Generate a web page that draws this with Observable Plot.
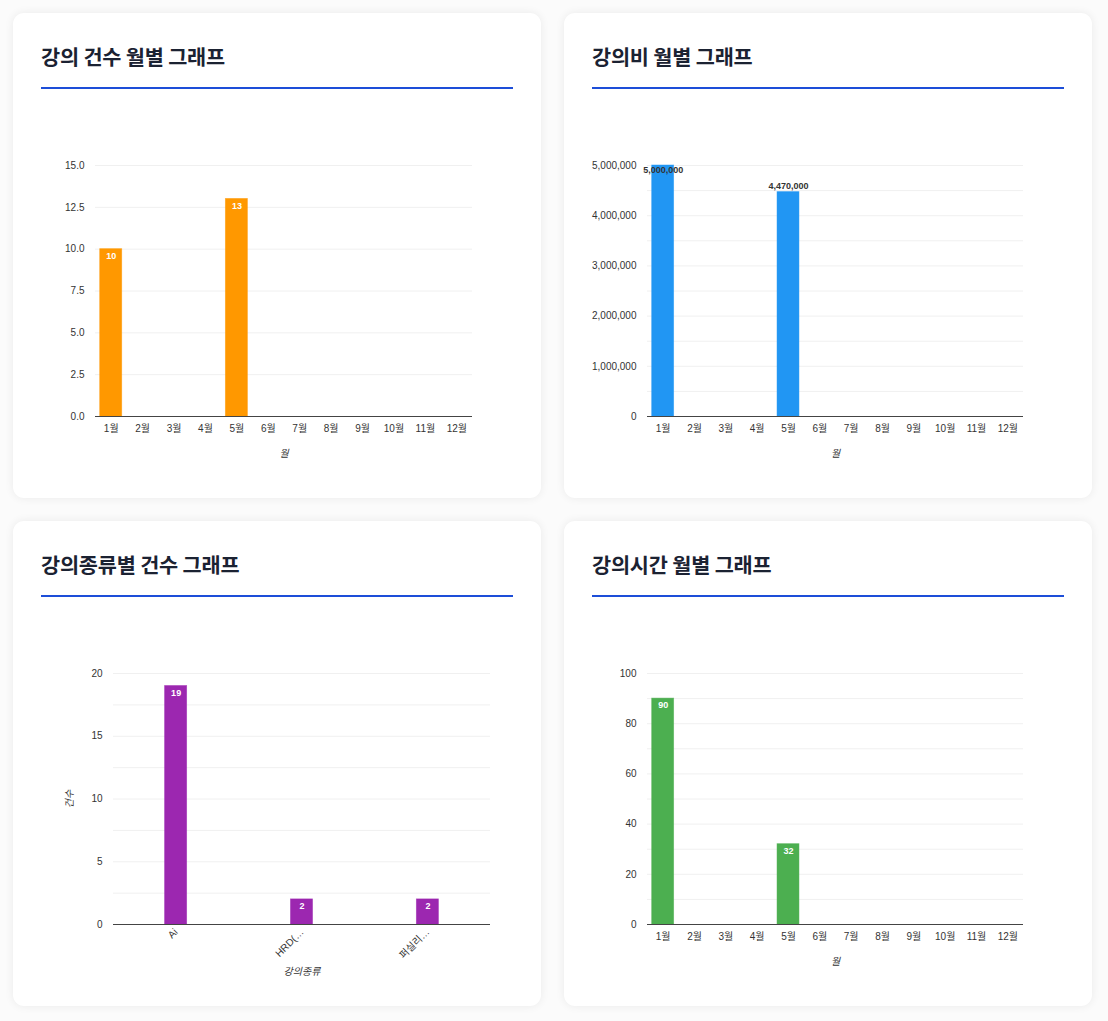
<!DOCTYPE html>
<html><head><meta charset="utf-8">
<script src="https://cdn.jsdelivr.net/npm/d3@7"></script>
<script src="https://cdn.jsdelivr.net/npm/@observablehq/plot@0.6"></script>
<style>
html,body{margin:0;padding:0;background:#fbfbfb;}
body{width:1108px;height:1021px;position:relative;overflow:hidden;font-family:"Noto Sans CJK KR","Noto Sans",sans-serif;}
.card{position:absolute;width:528px;height:485px;background:#fff;border-radius:11px;box-shadow:0 0 10px rgba(0,0,0,0.07);}
.card h2{position:absolute;left:28px;top:28px;margin:0;font-size:20.8px;font-weight:700;color:#1b2232;letter-spacing:-0.2px;}
.card .bar{position:absolute;left:28px;top:74px;width:472px;height:2px;background:#1d4ed8;}
.card .chart{position:absolute;left:28px;top:117px;}
.chart svg{font-family:Arial,"Liberation Sans","Noto Sans CJK KR",sans-serif;}
</style></head>
<body>
<div class="card" style="left:13px;top:13px"><h2>강의 건수 월별 그래프</h2><div class="bar"></div><div class="chart" id="c1"></div></div>
<div class="card" style="left:564px;top:13px"><h2>강의비 월별 그래프</h2><div class="bar"></div><div class="chart" id="c2"></div></div>
<div class="card" style="left:13px;top:521px"><h2>강의종류별 건수 그래프</h2><div class="bar"></div><div class="chart" id="c3"></div></div>
<div class="card" style="left:564px;top:521px"><h2>강의시간 월별 그래프</h2><div class="bar"></div><div class="chart" id="c4"></div></div>
<script>
const months = ["1월","2월","3월","4월","5월","6월","7월","8월","9월","10월","11월","12월"];
const lectureCounts = [10,0,0,0,13,0,0,0,0,0,0,0];
const lectureFees = [5000000,0,0,0,4470000,0,0,0,0,0,0,0];
const lectureTypes = ["Ai","HRD(…","퍼실리…"];
const typeCounts = [19,2,2];
const lectureHours = [90,0,0,0,32,0,0,0,0,0,0,0];

const ticks1 = [0,2.5,5,7.5,10,12.5,15];
const grid1 = [0,2.5,5,7.5,10,12.5,15];
const ticks2 = [0,1000000,2000000,3000000,4000000,5000000];
const grid2 = [0,500000,1000000,1500000,2000000,2500000,3000000,3500000,4000000,4500000,5000000];
const ticks3 = [0,5,10,15,20];
const grid3 = [0,2.5,5,7.5,10,12.5,15,17.5,20];
const ticks4 = [0,20,40,60,80,100];
const grid4 = [0,10,20,30,40,50,60,70,80,90,100];

function monthChart({values, color, yDomain, ticks, grid, fmt, marginLeft, inside, labelFmt}) {
  const data = months.map((m,i)=>({m, v: values[i]}));
  const maxV = yDomain[1];
  const marks = [
    Plot.ruleY(grid, {stroke:"#f0f0f0", strokeWidth:1}),
    Plot.barY(data, {x:"m", y:"v", fill:color, stroke:color, strokeOpacity:0.6, strokeWidth:0.8}),
    Plot.ruleY([0], {stroke:"#444", strokeWidth:1.2}),
  ];
  const labeled = data.filter(d=>d.v>0);
  if (inside) {
    marks.push(Plot.text(labeled, {x:"m", y:"v", text:d=>labelFmt(d.v), dy:7, fill:"#fff", fontWeight:"bold", fontSize:9}));
  } else {
    marks.push(Plot.text(labeled.filter(d=>d.v>=maxV), {x:"m", y:"v", text:d=>labelFmt(d.v), dy:5, fill:"#333", fontWeight:"bold", fontSize:9}));
    marks.push(Plot.text(labeled.filter(d=>d.v<maxV), {x:"m", y:"v", text:d=>labelFmt(d.v), dy:-6, fill:"#333", fontWeight:"bold", fontSize:9}));
  }
  return Plot.plot({
    width:472, height:340,
    marginTop:35, marginBottom:54, marginLeft, marginRight:41,
    style:{fontSize:"10px", color:"#333", background:"transparent", overflow:"visible"},
    x:{domain:months, round:false, paddingInner:0.3, paddingOuter:0.15, tickSize:0, tickPadding:8, label:"월", labelAnchor:"center", labelOffset:40, labelArrow:"none"},
    y:{domain:yDomain, ticks, tickFormat:fmt, tickSize:0, tickPadding:11, label:null},
    marks
  });
}

document.getElementById("c1").append(monthChart({values:lectureCounts, color:"#FF9800", yDomain:[0,15], ticks:ticks1, grid:grid1, fmt:d3.format(".1f"), marginLeft:54, inside:true, labelFmt:d3.format(",")}));
document.getElementById("c2").append(monthChart({values:lectureFees, color:"#2196F3", yDomain:[0,5000000], ticks:ticks2, grid:grid2, fmt:d3.format(","), marginLeft:55, inside:false, labelFmt:d3.format(",")}));
document.getElementById("c4").append(monthChart({values:lectureHours, color:"#4CAF50", yDomain:[0,100], ticks:ticks4, grid:grid4, fmt:d3.format("d"), marginLeft:55, inside:true, labelFmt:d3.format(",")}));

{
  const data = lectureTypes.map((t,i)=>({t, v:typeCounts[i]}));
  document.getElementById("c3").append(Plot.plot({
    width:472, height:340,
    marginTop:35, marginBottom:54, marginLeft:72, marginRight:23,
    style:{fontSize:"10px", color:"#333", background:"transparent", overflow:"visible"},
    x:{domain:lectureTypes, round:false, paddingInner:0.825, paddingOuter:0.41, tickSize:0, tickPadding:6, tickRotate:-45, label:"강의종류", labelAnchor:"center", labelOffset:50, labelArrow:"none"},
    y:{domain:[0,20], ticks:ticks3, tickFormat:d3.format("d"), tickSize:0, tickPadding:11, label:"건수", labelAnchor:"center", labelOffset:48, labelArrow:"none"},
    marks:[
      Plot.ruleY(grid3, {stroke:"#f0f0f0", strokeWidth:1}),
      Plot.barY(data, {x:"t", y:"v", fill:"#9C27B0", stroke:"#9C27B0", strokeOpacity:0.6, strokeWidth:0.8}),
      Plot.ruleY([0], {stroke:"#444", strokeWidth:1.2}),
      Plot.text(data, {x:"t", y:"v", text:d=>String(d.v), dy:7, fill:"#fff", fontWeight:"bold", fontSize:9})
    ]
  }));
}
document.querySelectorAll("[aria-label='x-axis label'], [aria-label='y-axis label']").forEach(g=>{
  g.setAttribute("font-style","italic");
  g.querySelectorAll("text").forEach(t=>{ t.textContent = t.textContent.replace(/\s*[↑→←↓]\s*/g,""); });
});
</script>
</body></html>
